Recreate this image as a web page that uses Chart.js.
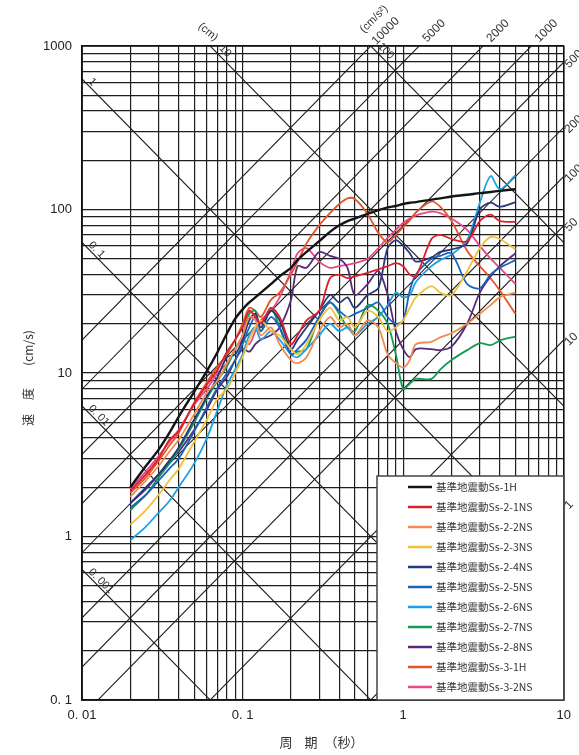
<!DOCTYPE html>
<html>
<head>
<meta charset="utf-8">
<script src="https://cdn.jsdelivr.net/npm/chart.js@4.4.0/dist/chart.umd.min.js"></script>
<style>
  html, body { margin: 0; padding: 0; background: #fff; }
  #wrap { width: 579px; height: 755px; }
</style>
</head>
<body>
<div id="wrap"><canvas id="chart" width="579" height="755"></canvas></div>
<script>
// periods (s) shared by every spectrum
const periods = [0.02, 0.025, 0.03, 0.035, 0.04, 0.05, 0.06, 0.07, 0.08, 0.09,
  0.1, 0.11, 0.12, 0.13, 0.15, 0.17, 0.2, 0.22, 0.25, 0.3,
  0.35, 0.4, 0.45, 0.5, 0.6, 0.7, 0.8, 0.9, 1.0, 1.1,
  1.2, 1.5, 1.7, 2.0, 2.5, 3.0, 3.5, 4.0, 5.0];

// pseudo velocity response (cm/s)
const svSs1H   = [2.0, 2.7, 3.4, 4.3, 5.4, 7.7, 10.3, 13.5, 17.5, 21.5, 24.5, 27, 29, 31, 35, 39, 44, 49, 55, 64, 73, 80, 85, 88, 94, 99, 103, 105, 108, 110, 111, 115, 117, 120, 123, 126, 128, 130, 133];
const svSs21NS = [1.9, 2.4, 3.0, 3.9, 4.4, 6.5, 8.5, 10.5, 13.5, 16, 19, 24, 22, 20, 25, 22, 15, 17, 21, 24, 38, 40, 38, 39, 41, 43, 45, 47, 45, 40, 39, 66, 70, 66, 64, 85, 93, 85, 84];
const svSs22NS = [1.75, 2.2, 2.7, 3.3, 3.9, 5.6, 7.6, 9.0, 11.5, 14, 17, 22, 21, 17, 19, 15, 12, 11.5, 12.5, 18, 22, 19, 20, 17, 21, 19, 13, 11.5, 10.8, 12, 15, 15.5, 16.5, 17.5, 20, 23, 26, 29, 31];
const svSs23NS = [1.18, 1.45, 1.8, 2.2, 2.6, 3.8, 5.2, 7.0, 8.0, 10, 12.5, 16, 19, 21, 18, 17, 14, 13, 15, 21, 25, 21, 22, 19, 24, 22, 18, 19, 21, 25, 29, 34, 31, 30, 42, 58, 68, 66, 57];
const svSs24NS = [1.6, 2.0, 2.4, 2.9, 3.5, 5.2, 7.2, 9.5, 12.5, 13, 16, 21, 23, 19, 24, 21, 14, 16, 19, 24, 30, 27, 29, 25, 30, 33, 58, 65, 60, 54, 48, 51, 55, 57, 62, 100, 110, 104, 111];
const svSs25NS = [1.5, 1.8, 2.2, 2.6, 3.0, 4.4, 6.2, 8.2, 10, 12, 15, 19, 22, 18, 22, 19, 13, 14, 16, 22, 27, 24, 22, 23, 25, 27, 22, 20, 21, 32, 40, 50, 52, 54, 35, 33, 40, 44, 49];
const svSs26NS = [0.95, 1.15, 1.4, 1.65, 2.0, 2.8, 4.0, 6.0, 8.5, 10.5, 13, 17, 19, 16, 18, 16, 13, 12.5, 14, 17, 20, 18, 19, 17, 20, 22, 26, 31, 29, 30, 36, 45, 49, 53, 65, 110, 160, 133, 162];
const svSs27NS = [1.45, 1.8, 2.3, 2.8, 3.4, 5.0, 7.0, 9.0, 11, 14, 17, 23, 24, 18, 25, 19, 13, 13.5, 14, 22, 27, 23, 19, 18, 26, 24, 20, 13, 8.0, 8.6, 9.2, 9.2, 10.5, 12, 13.8, 15.2, 14.8, 15.8, 16.7];
const svSs28NS = [1.6, 1.95, 2.4, 2.9, 3.3, 4.5, 6.0, 8.0, 9.5, 12, 14, 13.5, 15, 16, 17, 19, 28, 45, 44, 55, 52, 50, 44, 30, 35, 42, 30, 18, 14, 12.5, 14, 14, 13.8, 14.5, 20, 31, 39, 45, 54];
const svSs31H  = [1.85, 2.3, 2.9, 3.6, 4.3, 6.6, 8.8, 11, 13, 16, 20, 25, 24, 22, 28, 31, 40, 48, 62, 80, 95, 108, 117, 116, 94, 72, 63, 70, 78, 86, 96, 112, 104, 85, 56, 45, 38, 32, 23];
const svSs32NS = [1.95, 2.5, 3.1, 3.8, 4.5, 6.4, 8.0, 10, 11.5, 14, 16, 15, 18, 21, 24, 29, 42, 54, 58, 48, 44, 45, 46, 47, 50, 58, 67, 75, 83, 88, 92, 97, 95, 88, 75, 60, 50, 44, 35];

const seriesNames = ['基準地震動Ss-1H', '基準地震動Ss-2-1NS', '基準地震動Ss-2-2NS', '基準地震動Ss-2-3NS',
  '基準地震動Ss-2-4NS', '基準地震動Ss-2-5NS', '基準地震動Ss-2-6NS', '基準地震動Ss-2-7NS',
  '基準地震動Ss-2-8NS', '基準地震動Ss-3-1H', '基準地震動Ss-3-2NS'];
const seriesValues = [svSs1H, svSs21NS, svSs22NS, svSs23NS, svSs24NS, svSs25NS, svSs26NS, svSs27NS, svSs28NS, svSs31H, svSs32NS];
const seriesColors = ['#141414', '#dc1f2d', '#f08c50', '#efc03a', '#27397c', '#1d62b8', '#1fa0e2', '#139a55', '#582a7c', '#e2552a', '#e6488a'];

// axis labels
const xLabelValues = [0.01, 0.1, 1, 10];
const xLabelTexts = ['0. 01', '0. 1', '1', '10'];
const yLabelValues = [0.1, 1, 10, 100, 1000];
const yLabelTexts = ['0. 1', '1', '10', '100', '1000'];

// tripartite lines: displacement (cm) and acceleration (cm/s2)
const dispLines = [0.001, 0.01, 0.1, 1, 10, 100];
const dispLabels = ['0. 001', '0. 01', '0. 1', '1', '10', '100'];
const accLines = [1, 10, 50, 100, 200, 500, 1000, 2000, 5000, 10000];
const accTopLabels = [10000, 5000, 2000, 1000];
const accRightLabels = [500, 200, 100, 50, 10, 1];

function decadeGrid(lo, hi) {
  const out = [];
  for (let e = lo; e < hi; e++) {
    for (let k = 1; k <= 9; k++) out.push(k * Math.pow(10, e));
  }
  out.push(Math.pow(10, hi));
  return out;
}
const gridX = decadeGrid(-2, 1);
const gridY = decadeGrid(-1, 3);

function labelFor(v, vals, texts) {
  const i = vals.findIndex(lv => Math.abs(v - lv) / lv < 1e-6);
  return i < 0 ? '' : texts[i];
}

const TWO_PI = 2 * Math.PI;
const smallFont = '11px "Liberation Sans", Arial, sans-serif';
const cjkFont = '"Noto Sans CJK JP", "Noto Sans", sans-serif';

function rotText(ctx, text, px, py, angle, align, base) {
  ctx.save();
  ctx.translate(px, py);
  ctx.rotate(angle);
  ctx.textAlign = align || 'center';
  ctx.textBaseline = base || 'middle';
  ctx.fillText(text, 0, 0);
  ctx.restore();
}

const tripartite = {
  id: 'tripartite',
  beforeDatasetsDraw(chart) {
    const { ctx, chartArea: a, scales: { x, y } } = chart;
    ctx.save();
    ctx.beginPath();
    ctx.rect(a.left, a.top, a.right - a.left, a.bottom - a.top);
    ctx.clip();
    ctx.strokeStyle = '#1e1e1e';
    ctx.lineWidth = 1.1;
    const t0 = 0.01, t1 = 10;
    dispLines.forEach(d => {
      ctx.beginPath();
      ctx.moveTo(x.getPixelForValue(t0), y.getPixelForValue(TWO_PI * d / t0));
      ctx.lineTo(x.getPixelForValue(t1), y.getPixelForValue(TWO_PI * d / t1));
      ctx.stroke();
    });
    accLines.forEach(acc => {
      ctx.beginPath();
      ctx.moveTo(x.getPixelForValue(t0), y.getPixelForValue(acc * t0 / TWO_PI));
      ctx.lineTo(x.getPixelForValue(t1), y.getPixelForValue(acc * t1 / TWO_PI));
      ctx.stroke();
    });
    ctx.restore();
  },
  afterDraw(chart) {
    const { ctx, chartArea: a, scales: { x, y } } = chart;
    ctx.save();
    // frame
    ctx.strokeStyle = '#111';
    ctx.lineWidth = 1.5;
    ctx.strokeRect(a.left, a.top, a.right - a.left, a.bottom - a.top);

    ctx.fillStyle = '#333';
    ctx.font = smallFont;
    // displacement labels on left edge and top edge
    dispLines.forEach((d, i) => {
      const svLeft = TWO_PI * d / 0.01;
      if (svLeft <= 1000) {
        const py = y.getPixelForValue(svLeft);
        rotText(ctx, dispLabels[i], a.left + 6, py + 3, Math.PI / 4, 'left', 'alphabetic');
      } else {
        const px = x.getPixelForValue(TWO_PI * d / 1000);
        rotText(ctx, dispLabels[i], px + 15, a.top + 5, Math.PI / 4, 'center', 'middle');
      }
    });
    rotText(ctx, '(cm)', 208, 32, Math.PI / 4.5, 'center', 'middle');

    // acceleration labels on top edge
    ctx.font = '12px "Liberation Sans", Arial, sans-serif';
    accTopLabels.forEach(acc => {
      const px = x.getPixelForValue(TWO_PI * 1000 / acc);
      rotText(ctx, String(acc), px + 15, 31, -Math.PI / 4, 'center', 'middle');
    });
    ctx.font = smallFont;
    rotText(ctx, '(cm/s²)', 374, 19, -Math.PI / 4, 'center', 'middle');
    // acceleration labels on right edge (cut by the page edge)
    ctx.font = '12px "Liberation Sans", Arial, sans-serif';
    accRightLabels.forEach(acc => {
      const py = y.getPixelForValue(acc * 10 / TWO_PI);
      rotText(ctx, String(acc), a.right + 3, py + 4, -Math.PI / 4, 'left', 'middle');
    });

    // axis titles
    ctx.fillStyle = '#333';
    ctx.font = '13px ' + cjkFont;
    ctx.textAlign = 'center';
    ctx.textBaseline = 'middle';
    ctx.fillText('周', 286, 742);
    ctx.fillText('期', 311, 742);
    ctx.fillText('（秒）', 344, 742);
    ctx.font = '12px ' + cjkFont;
    rotText(ctx, '速', 28, 420, -Math.PI / 2);
    rotText(ctx, '度', 28, 394, -Math.PI / 2);
    rotText(ctx, '(cm/s)', 28, 348, -Math.PI / 2);

    // legend box
    const lx = 377, ly = 476, lw = a.right - lx, lh = a.bottom - ly;
    ctx.fillStyle = '#fff';
    ctx.fillRect(lx, ly, lw, lh);
    ctx.strokeStyle = '#444';
    ctx.lineWidth = 1.5;
    ctx.strokeRect(lx, ly, lw, lh);
    ctx.font = '10.5px ' + cjkFont;
    ctx.textAlign = 'left';
    ctx.textBaseline = 'middle';
    chart.data.datasets.forEach((ds, i) => {
      const cy = ly + 11 + i * 20;
      ctx.strokeStyle = ds.borderColor;
      ctx.lineWidth = 2.5;
      ctx.beginPath();
      ctx.moveTo(408, cy);
      ctx.lineTo(432, cy);
      ctx.stroke();
      ctx.fillStyle = '#333';
      ctx.fillText(ds.label, 436, cy + 0.5);
    });
    ctx.restore();
  }
};

const datasets = seriesValues.map((vals, i) => ({
  label: seriesNames[i],
  data: periods.map((t, j) => ({ x: t, y: vals[j] })),
  borderColor: seriesColors[i],
  borderWidth: i === 0 ? 2.4 : 1.8,
  pointRadius: 0,
  tension: 0.3,
  fill: false
}));

const tickFont = { family: '"Liberation Sans", Arial, sans-serif', size: 13 };

new Chart(document.getElementById('chart'), {
  type: 'line',
  data: { datasets },
  options: {
    responsive: false,
    animation: false,
    layout: { padding: { left: 0, top: 46, right: 11, bottom: 0 } },
    plugins: { legend: { display: false }, tooltip: { enabled: false } },
    scales: {
      x: {
        type: 'logarithmic',
        min: 0.01,
        max: 10,
        afterBuildTicks: ax => { ax.ticks = gridX.map(v => ({ value: v })); },
        afterFit: ax => { ax.height = 55; },
        ticks: {
          autoSkip: false, maxRotation: 0, padding: 8, color: '#222', font: tickFont,
          callback: v => labelFor(v, xLabelValues, xLabelTexts)
        },
        grid: { color: '#1e1e1e', lineWidth: 1.2, drawTicks: false },
        border: { color: '#111', width: 1.5 }
      },
      y: {
        type: 'logarithmic',
        min: 0.1,
        max: 1000,
        afterBuildTicks: ax => { ax.ticks = gridY.map(v => ({ value: v })); },
        afterFit: ax => { ax.width = 82; },
        ticks: {
          autoSkip: false, padding: 10, color: '#222', font: tickFont,
          callback: v => labelFor(v, yLabelValues, yLabelTexts)
        },
        grid: { color: '#1e1e1e', lineWidth: 1.2, drawTicks: false },
        border: { color: '#111', width: 1.5 }
      }
    }
  },
  plugins: [tripartite]
});
</script>
</body>
</html>
